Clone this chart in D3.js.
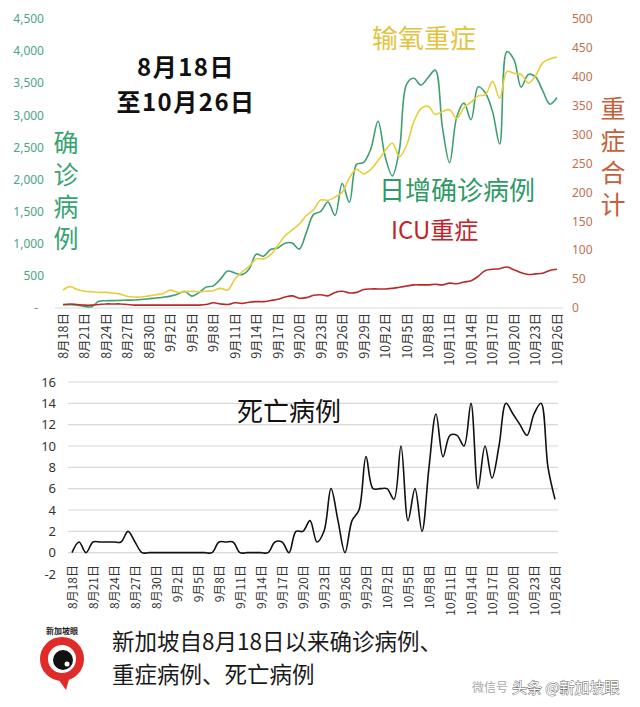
<!DOCTYPE html>
<html>
<head>
<meta charset="utf-8">
<script src="https://cdn.jsdelivr.net/npm/d3@7"></script>
<style>
  body { margin: 0; background: #fff; }
  svg { display: block; font-family: "Noto Sans", "Noto Sans CJK SC", sans-serif; }
</style>
</head>
<body>
<div id="chart"></div>
<script>
// Daily data from 8/18 to 10/26 (70 days)
const startDate = new Date(2021, 7, 18);
const days = d3.timeDay.range(startDate, d3.timeDay.offset(startDate, 70));
const dayNames = days.map(d => `${d.getMonth() + 1}月${d.getDate()}日`);

const tickLabels = ["8月18日", "8月21日", "8月24日", "8月27日", "8月30日", "9月2日", "9月5日", "9月8日",
  "9月11日", "9月14日", "9月17日", "9月20日", "9月23日", "9月26日", "9月29日", "10月2日", "10月5日",
  "10月8日", "10月11日", "10月14日", "10月17日", "10月20日", "10月23日", "10月26日"];

// daily confirmed cases (left axis)
const dailyCases = [51, 50, 45, 25, 20, 105, 112, 115, 118, 122,
  125, 133, 145, 155, 168, 185, 215, 259, 185, 240,
  325, 345, 450, 575, 545, 520, 607, 837, 807, 910,
  935, 1009, 1012, 917, 1178, 1457, 1504, 1650, 1443, 1939,
  1647, 2236, 2268, 2478, 2909, 2356, 2057, 2475, 3486, 3577,
  3470, 3590, 3703, 2809, 2263, 2976, 3190, 2932, 3445, 3348,
  3058, 2553, 3994, 3862, 3439, 3637, 3598, 3383, 3174, 3277];

// severe cases needing oxygen (right axis)
const oxygenCases = [31, 37, 32, 29, 28, 27, 27, 26, 24, 20,
  19, 19, 21, 23, 25, 31, 27, 28, 29, 28,
  29, 30, 34, 31, 50, 62, 72, 85, 85, 92,
  108, 125, 135, 145, 160, 170, 187, 186, 192, 200,
  225, 240, 232, 240, 255, 272, 285, 262, 282, 322,
  345, 349, 335, 340, 343, 328, 347, 356, 367, 369,
  392, 363, 409, 406, 404, 389, 402, 424, 431, 434];

// ICU cases (right axis)
const icuCases = [6, 7, 6, 5, 5, 6, 7, 7, 7, 6,
  5, 5, 5, 5, 5, 5, 5, 5, 5, 5,
  6, 9, 7, 6, 9, 8, 10, 11, 11, 13,
  15, 19, 21, 17, 18, 22, 23, 21, 27, 29,
  26, 27, 32, 33, 33, 33, 34, 36, 38, 40,
  40, 40, 41, 40, 43, 42, 45, 47, 55, 65,
  67, 68, 71, 66, 61, 58, 59, 60, 65, 67];

// daily deaths (bottom chart)
const deaths = [0, 1, 0, 1, 1, 1, 1, 1, 2, 1,
  0, 0, 0, 0, 0, 0, 0, 0, 0, 0,
  0, 1, 1, 1, 0, 0, 0, 0, 0, 1,
  1, 0, 2, 2, 3, 1, 2, 6, 3, 0,
  3, 4, 9, 6, 6, 6, 5, 10, 3, 6,
  2, 8, 13, 9, 11, 11, 10, 14, 6, 10,
  7, 10, 14, 13, 12, 11, 13, 14, 8, 5];

const leftTicks = [0, 500, 1000, 1500, 2000, 2500, 3000, 3500, 4000, 4500];
const rightTicks = [0, 50, 100, 150, 200, 250, 300, 350, 400, 450, 500];
const deathTicks = [-2, 0, 2, 4, 6, 8, 10, 12, 14, 16];

const width = 640, height = 707;
const svg = d3.select("#chart").append("svg")
  .attr("width", width).attr("height", height);

svg.append("rect").attr("width", width).attr("height", height).attr("fill", "#fff");

const green = "#3f9f73", yellow = "#e6cf3c", red = "#b9292b";

// ---------- top chart ----------
const x1 = d3.scalePoint().domain(dayNames).range([63, 557]);
const yLeft = d3.scaleLinear().domain([0, 4500]).range([308, 19]);
const yRight = d3.scaleLinear().domain([0, 500]).range([308, 19]);

svg.append("line")
  .attr("x1", 55).attr("x2", 563)
  .attr("y1", yLeft(0)).attr("y2", yLeft(0))
  .attr("stroke", "#d9d9d9").attr("stroke-width", 1.2);

const fmtComma = d3.format(",");
svg.append("g").selectAll("text").data(leftTicks).join("text")
  .attr("x", d => d === 0 ? 38 : 44)
  .attr("y", d => yLeft(d))
  .attr("dy", "0.35em")
  .attr("text-anchor", "end")
  .attr("font-size", 12)
  .attr("fill", "#4aa586")
  .text(d => d === 0 ? "-" : fmtComma(d));

svg.append("g").selectAll("text").data(rightTicks).join("text")
  .attr("x", 572)
  .attr("y", d => yRight(d))
  .attr("dy", "0.35em")
  .attr("font-size", 12)
  .attr("fill", "#c0704e")
  .text(d => d);

const topAxis = svg.append("g")
  .attr("transform", "translate(0,313)")
  .call(d3.axisBottom(x1).tickValues(tickLabels).tickSize(0).tickPadding(0));
topAxis.select(".domain").remove();
topAxis.selectAll("text")
  .attr("transform", "rotate(-90)")
  .attr("text-anchor", "end")
  .attr("x", 0).attr("y", 0).attr("dy", "0.35em")
  .attr("font-size", 12.5)
  .attr("font-family", "Noto Sans CJK SC")
  .attr("fill", "#333");

const lineLeft = d3.line()
  .x((d, i) => x1(dayNames[i]))
  .y(d => yLeft(d))
  .curve(d3.curveCatmullRom.alpha(0.5));
const lineRight = d3.line()
  .x((d, i) => x1(dayNames[i]))
  .y(d => yRight(d))
  .curve(d3.curveCatmullRom.alpha(0.5));

svg.append("path").datum(dailyCases)
  .attr("fill", "none").attr("stroke", green).attr("stroke-width", 1.6)
  .attr("d", lineLeft);
svg.append("path").datum(oxygenCases)
  .attr("fill", "none").attr("stroke", yellow).attr("stroke-width", 1.6)
  .attr("d", lineRight);
svg.append("path").datum(icuCases)
  .attr("fill", "none").attr("stroke", red).attr("stroke-width", 1.6)
  .attr("d", lineRight);

// titles and labels in the top chart
svg.append("text").attr("x", 186).attr("y", 76)
  .attr("text-anchor", "middle").attr("font-size", 24).attr("font-weight", "bold")
  .attr("letter-spacing", 1.5)
  .attr("font-family", "Noto Sans CJK SC").attr("fill", "#111")
  .text("8月18日");
svg.append("text").attr("x", 186).attr("y", 111)
  .attr("text-anchor", "middle").attr("font-size", 24).attr("font-weight", "bold")
  .attr("letter-spacing", 1.5)
  .attr("font-family", "Noto Sans CJK SC").attr("fill", "#111")
  .text("至10月26日");

// vertical axis titles, written top to bottom
const vertical = (label, x, yTop, color) => {
  svg.append("text")
    .attr("x", x).attr("y", yTop)
    .style("writing-mode", "vertical-rl")
    .style("text-orientation", "upright")
    .attr("letter-spacing", 7)
    .attr("font-size", 25)
    .attr("font-family", "Noto Sans CJK SC")
    .attr("fill", color)
    .text(label);
};
vertical("确诊病例", 66, 130, "#3aa373");
vertical("重症合计", 613, 96, "#c4613c");

svg.append("text").attr("x", 372).attr("y", 48)
  .attr("font-size", 26).attr("font-family", "Noto Sans CJK SC")
  .attr("fill", "#e2c443").text("输氧重症");
svg.append("text").attr("x", 379).attr("y", 200)
  .attr("font-size", 26).attr("font-family", "Noto Sans CJK SC")
  .attr("fill", "#2f9a68").text("日增确诊病例");
svg.append("text").attr("x", 391).attr("y", 239)
  .attr("font-size", 24).attr("font-family", "Noto Sans CJK SC")
  .attr("fill", "#c4232b").text("ICU重症");

// ---------- bottom chart ----------
const x2 = d3.scalePoint().domain(dayNames).range([72, 555]);
const y2 = d3.scaleLinear().domain([-2, 16]).range([574, 382]);

svg.append("g").selectAll("line").data(deathTicks.filter(d => d >= 0)).join("line")
  .attr("x1", 68).attr("x2", 558)
  .attr("y1", d => y2(d)).attr("y2", d => y2(d))
  .attr("stroke", "#d9d9d9").attr("stroke-width", 1.2);

svg.append("g").selectAll("text").data(deathTicks).join("text")
  .attr("x", 56)
  .attr("y", d => y2(d))
  .attr("dy", "0.35em")
  .attr("text-anchor", "end")
  .attr("font-size", 13)
  .attr("fill", "#333")
  .text(d => d);

const bottomAxis = svg.append("g")
  .attr("transform", "translate(0,565)")
  .call(d3.axisBottom(x2).tickValues(tickLabels).tickSize(0).tickPadding(0));
bottomAxis.select(".domain").remove();
bottomAxis.selectAll("text")
  .attr("transform", "rotate(-90)")
  .attr("text-anchor", "end")
  .attr("x", 0).attr("y", 0).attr("dy", "0.35em")
  .attr("font-size", 12)
  .attr("font-family", "Noto Sans CJK SC")
  .attr("fill", "#333");

const deathLine = d3.line()
  .x((d, i) => x2(dayNames[i]))
  .y(d => y2(d))
  .curve(d3.curveCatmullRom.alpha(0.5));
svg.append("path").datum(deaths)
  .attr("fill", "none").attr("stroke", "#111").attr("stroke-width", 1.6)
  .attr("d", deathLine);

svg.append("text").attr("x", 237).attr("y", 421)
  .attr("font-size", 26).attr("font-family", "Noto Sans CJK SC")
  .attr("fill", "#111").text("死亡病例");

// ---------- footer ----------
const logo = svg.append("g");
logo.append("path")
  .attr("d", "M56,676 L70,676 L66,690 Z")
  .attr("fill", "#e12a2a");
logo.append("circle").attr("cx", 62).attr("cy", 659).attr("r", 18)
  .attr("fill", "#fff").attr("stroke", "#e12a2a").attr("stroke-width", 8);
logo.append("circle").attr("cx", 63).attr("cy", 660).attr("r", 10).attr("fill", "#111");
logo.append("circle").attr("cx", 67).attr("cy", 664).attr("r", 2.5).attr("fill", "#fff");
logo.append("text").attr("x", 62).attr("y", 634)
  .attr("text-anchor", "middle").attr("font-size", 8).attr("font-weight", "bold")
  .attr("font-family", "Noto Sans CJK SC").attr("fill", "#222").text("新加坡眼");

svg.append("text").attr("x", 112).attr("y", 650)
  .attr("font-size", 22.5).attr("font-family", "Noto Sans CJK SC")
  .attr("fill", "#1a1a1a").text("新加坡自8月18日以来确诊病例、");
svg.append("text").attr("x", 112).attr("y", 683)
  .attr("font-size", 22.5).attr("font-family", "Noto Sans CJK SC")
  .attr("fill", "#1a1a1a").text("重症病例、死亡病例");

svg.append("text").attr("x", 472).attr("y", 692)
  .attr("font-size", 12).attr("font-family", "Noto Sans CJK SC")
  .attr("fill", "#aaa").text("微信号");
svg.append("text").attr("x", 512).attr("y", 693)
  .attr("font-size", 15).attr("font-family", "Noto Sans CJK SC")
  .attr("fill", "#fff").attr("stroke", "#555").attr("stroke-width", 0.8)
  .attr("paint-order", "stroke")
  .text("头条 @新加坡眼");
</script>
</body>
</html>
